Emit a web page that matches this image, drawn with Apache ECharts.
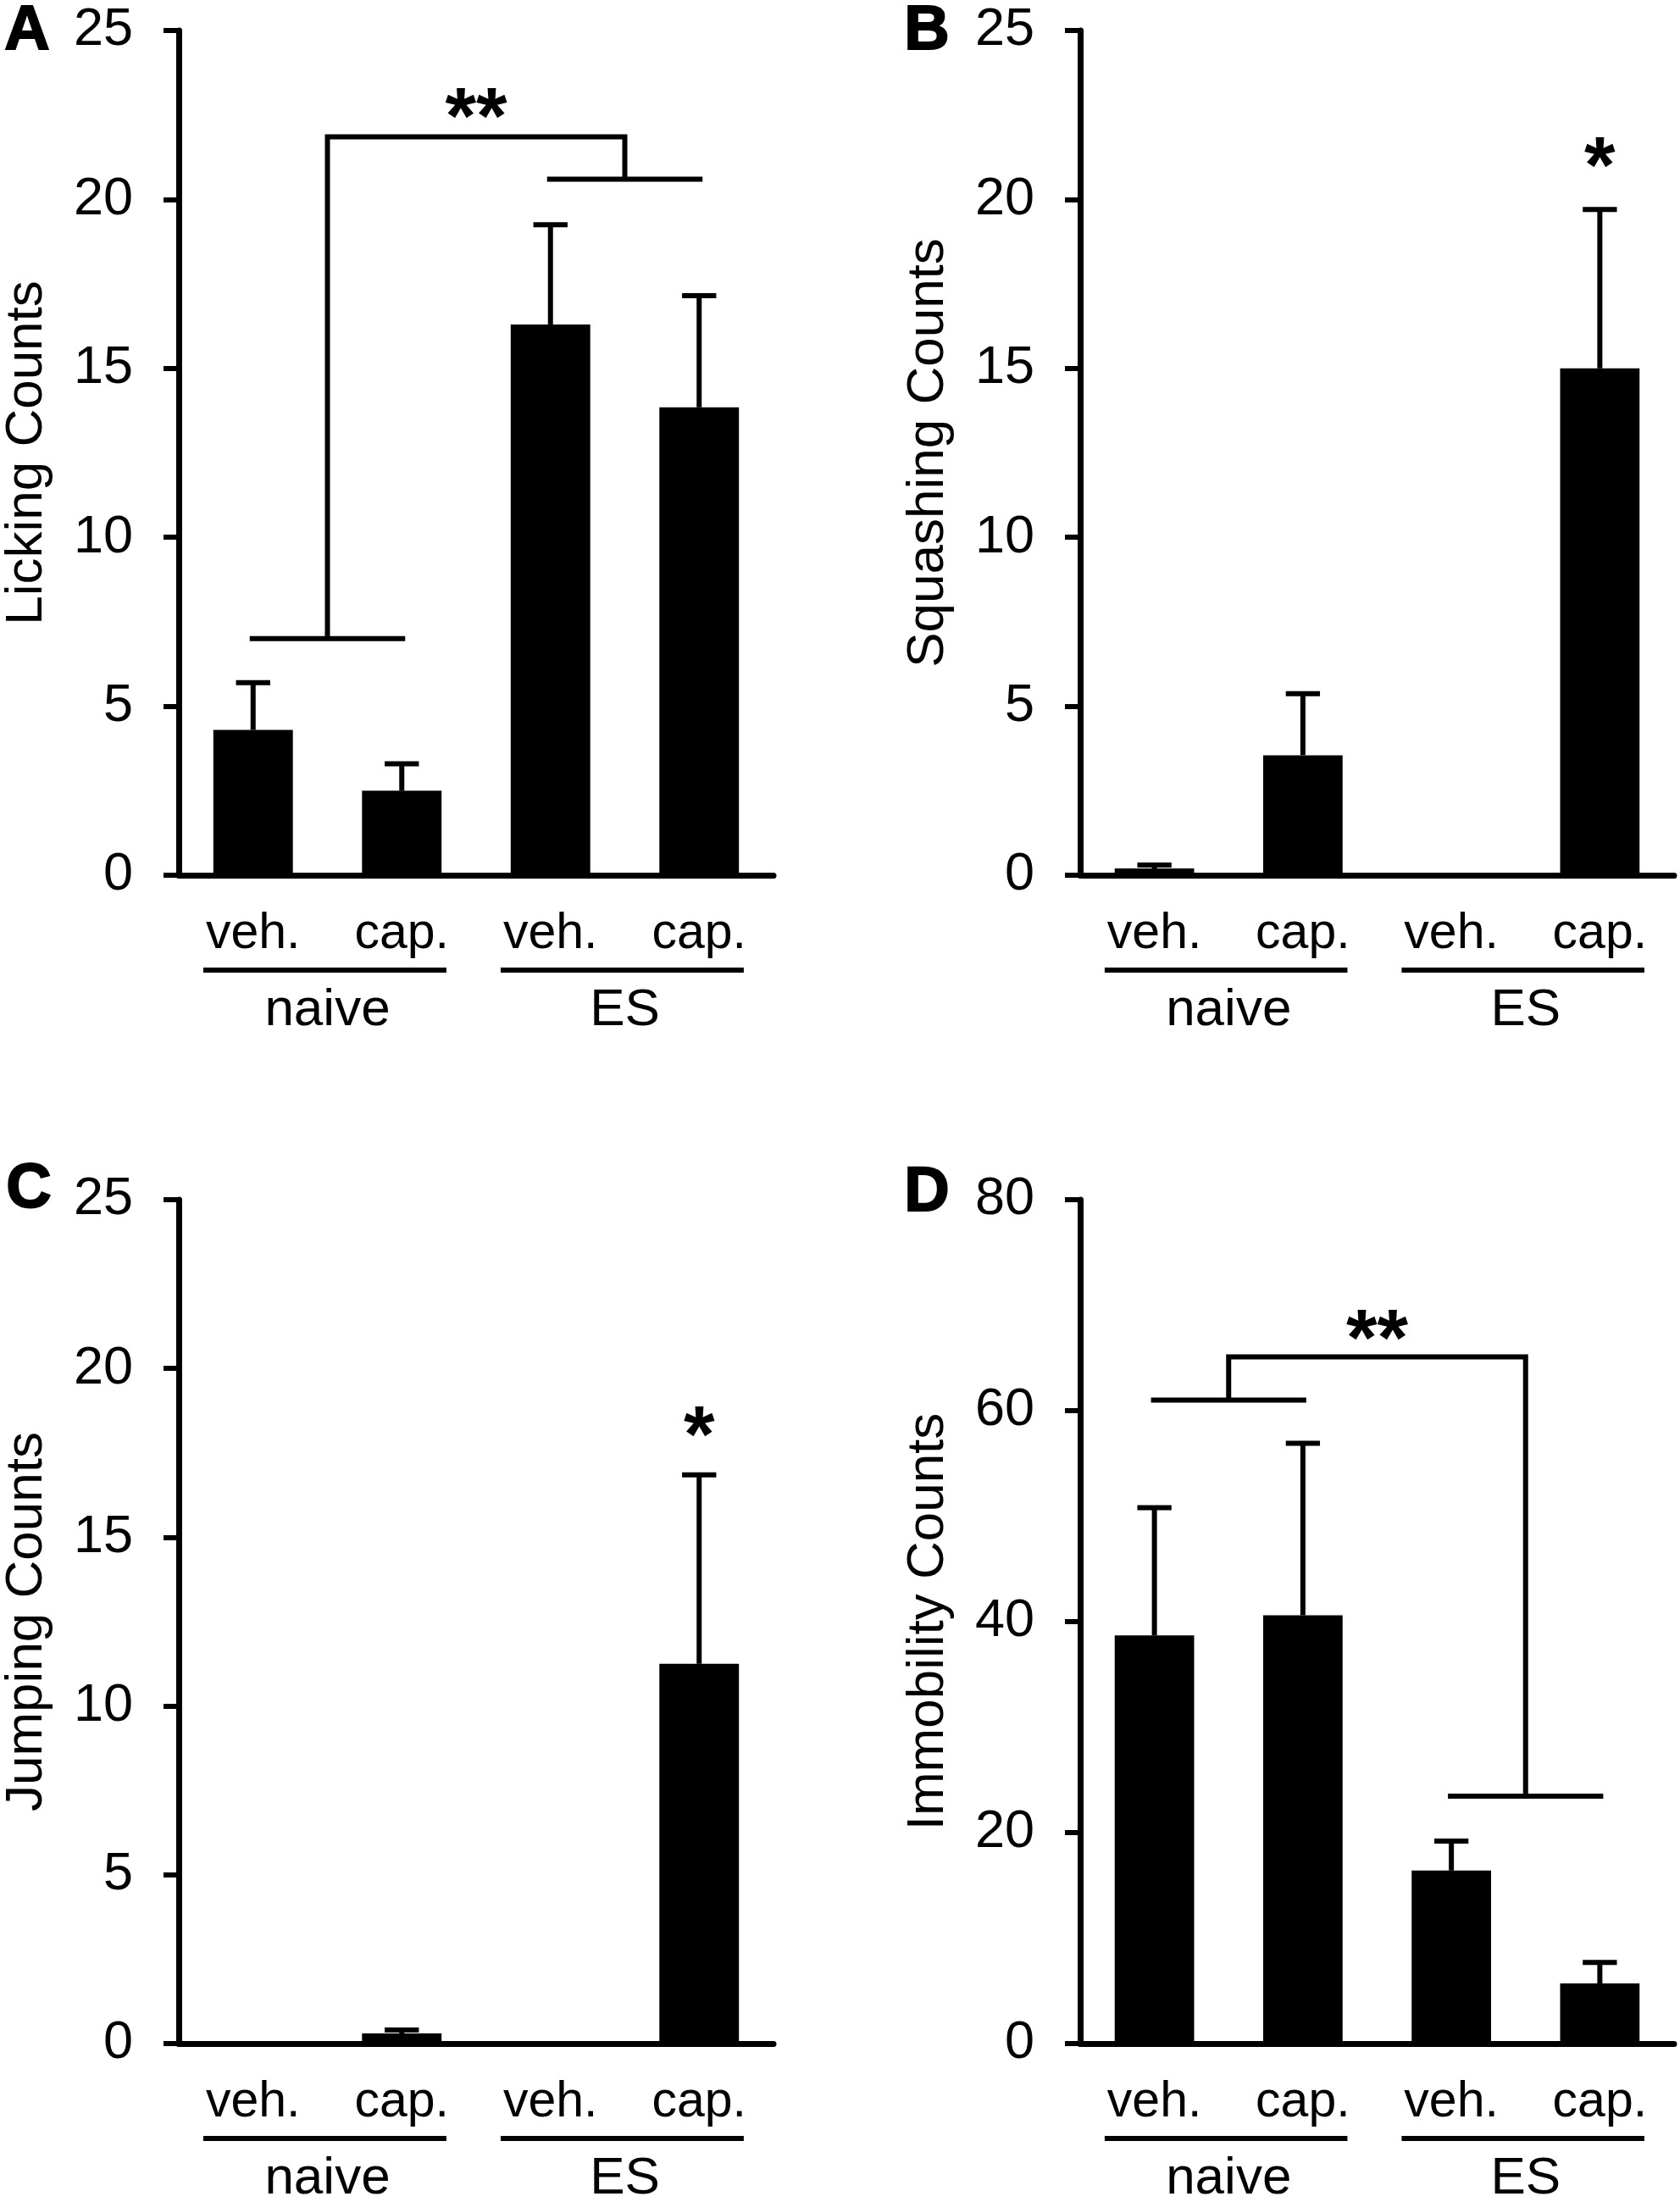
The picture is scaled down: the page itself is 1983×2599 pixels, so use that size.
<!DOCTYPE html>
<html><head><meta charset="utf-8">
<script src="https://cdn.jsdelivr.net/npm/echarts@6/dist/echarts.min.js"></script>
<style>html,body{margin:0;padding:0;background:#fff}#c{width:1983px;height:2599px}</style>
</head><body><div id="c"></div>
<script>
const categories = ['veh.', 'cap.', 'veh.', 'cap.'];
const groupNames = ['naive', 'ES'];
const panelLetters = ['A', 'B', 'C', 'D'];
const yTitles = ['Licking Counts', 'Squashing Counts', 'Jumping Counts', 'Immobility Counts'];
const yMax = [25, 25, 25, 80];
const yInterval = [5, 5, 5, 20];
const yTicks = [[0,5,10,15,20,25],[0,5,10,15,20,25],[0,5,10,15,20,25],[0,20,40,60,80]];

const lickingMean = [4.3, 2.5, 16.3, 13.85];
const lickingErrTop = [5.7, 3.3, 19.25, 17.15];
const squashingMean = [0.2, 3.55, 0, 15.0];
const squashingErrTop = [0.3, 5.37, 0, 19.7];
const jumpingMean = [0, 0.3, 0, 11.25];
const jumpingErrTop = [0, 0.4, 0, 16.85];
const immobilityMean = [38.7, 40.6, 16.4, 5.7];
const immobilityErrTop = [50.8, 56.9, 19.2, 7.7];

// brackets: [left pair level, top level, right pair level]
const bracketA = [7.0, 21.85, 20.6];
const bracketD = [61.0, 65.1, 23.45];

// significance marks
const markText = ['**', '*', '*', '**'];
const markPos = [1.5, 3, 3, 1.5];      // position in category units
const markValue = [22.8, 21.35, 18.4, 68.0];

const means = [lickingMean, squashingMean, jumpingMean, immobilityMean];
const errTops = [lickingErrTop, squashingErrTop, jumpingErrTop, immobilityErrTop];
const brackets = [bracketA, null, null, bracketD];

const FONT = '"Liberation Sans", Arial, Helvetica, sans-serif';
const gridBoxes = [
  {left: 211, top: 36, width: 702, height: 997},
  {left: 1275, top: 36, width: 701, height: 997},
  {left: 211, top: 1416, width: 702, height: 996},
  {left: 1275, top: 1416, width: 701, height: 996}
];
const letterPos = [[32, 38], [1094, 38], [34, 1405], [1094, 1409]];

const chart = echarts.init(document.getElementById('c'), null, {renderer: 'canvas'});

const LW = 6;
const xAxes = [], yAxes = [], series = [];
for (let k = 0; k < 4; k++) {
  xAxes.push({
    type: 'category', gridIndex: k, data: categories,
    axisLine: {lineStyle: {color: '#000', width: 7}},
    axisTick: {show: false},
    axisLabel: {color: '#000', fontSize: 59, fontFamily: FONT, margin: 40, lineHeight: 59, interval: 0}
  });
  yAxes.push({
    type: 'value', gridIndex: k, min: 0, max: yMax[k], interval: yInterval[k],
    name: yTitles[k], nameLocation: 'middle', nameRotate: 90, nameGap: 148,
    nameTextStyle: {color: '#000', fontSize: 62, fontFamily: FONT, lineHeight: 62},
    splitLine: {show: false},
    axisLine: {show: true, lineStyle: {color: '#000', width: 7}},
    axisTick: {show: true, length: 18, lineStyle: {color: '#000', width: 6}},
    axisLabel: {color: '#000', fontSize: 63, fontFamily: FONT, margin: 54, padding: [0, 0, 16, 0]}
  });
  series.push({
    type: 'bar', xAxisIndex: k, yAxisIndex: k,
    data: means[k], barWidth: '53.5%',
    itemStyle: {color: '#000'}, silent: true, animation: false, z: 2
  });
  series.push({
    type: 'custom', xAxisIndex: k, yAxisIndex: k, animation: false, z: 3,
    data: means[k].map((m, i) => [i, errTops[k][i], m]),
    encode: {x: 0, y: 1},
    renderItem: function (params, api) {
      const i = api.value(0), top = api.value(1), mean = api.value(2);
      if (!(top > mean)) return null;
      const p0 = api.coord([i, mean]);
      const p1 = api.coord([i, top]);
      const half = api.size([1, 0])[0] * 0.115;
      return {type: 'group', children: [
        {type: 'line', shape: {x1: p0[0], y1: p0[1], x2: p1[0], y2: p1[1]}, style: {stroke: '#000', lineWidth: LW}},
        {type: 'line', shape: {x1: p1[0] - half, y1: p1[1], x2: p1[0] + half, y2: p1[1]}, style: {stroke: '#000', lineWidth: LW}}
      ]};
    }
  });
  // group underlines + group names
  series.push({
    type: 'custom', xAxisIndex: k, yAxisIndex: k, animation: false, silent: true,
    data: [[0, 0]], encode: {x: 0, y: 1},
    renderItem: function (params, api) {
      const bw = api.size([1, 0])[0];
      const zero = api.coord([0, 0]);
      const cx = i => zero[0] + i * bw;
      const children = [];
      for (let g = 0; g < 2; g++) {
        const a = cx(2 * g), b = cx(2 * g + 1);
        children.push({type: 'line', shape: {x1: a - 0.335 * bw, y1: zero[1] + 112, x2: b + 0.30 * bw, y2: zero[1] + 112},
          style: {stroke: '#000', lineWidth: LW}});
        children.push({type: 'text', x: (a + b) / 2, y: zero[1] + 160,
          style: {text: groupNames[g], fill: '#000', fontSize: 62, fontFamily: FONT, align: 'center', verticalAlign: 'middle'}});
      }
      return {type: 'group', children: children};
    }
  });
  // brackets and significance marks
  const br = brackets[k];
  series.push({
    type: 'custom', xAxisIndex: k, yAxisIndex: k, animation: false, silent: true, z: 4,
    data: [[0, markValue[k]]], encode: {x: 0, y: 1},
    renderItem: function (params, api) {
      const bw = api.size([1, 0])[0];
      const zero = api.coord([0, 0]);
      const cx = p => zero[0] + p * bw;
      const cy = v => api.coord([0, v])[1];
      const st = {stroke: '#000', lineWidth: LW};
      const children = [];
      if (br) {
        const yL = cy(br[0]), yT = cy(br[1]), yR = cy(br[2]);
        children.push({type: 'line', shape: {x1: cx(0) - 4, y1: yL, x2: cx(1) + 4, y2: yL}, style: st});
        children.push({type: 'polyline', shape: {points: [[cx(0.5), yL], [cx(0.5), yT], [cx(2.5), yT], [cx(2.5), yR]]}, style: Object.assign({fill: null}, st)});
        children.push({type: 'line', shape: {x1: cx(2) - 4, y1: yR, x2: cx(3) + 4, y2: yR}, style: st});
      }
      const fs = 94;
      children.push({type: 'text', x: cx(markPos[k]), y: cy(markValue[k]) + 0.21 * fs,
        style: {text: markText[k], fill: '#000', fontSize: fs, fontWeight: 'bold', fontFamily: FONT, align: 'center', verticalAlign: 'middle'}});
      return {type: 'group', children: children};
    }
  });
}

const graphics = panelLetters.map((L, k) => ({
  type: 'text', x: letterPos[k][0], y: letterPos[k][1],
  style: {text: L, fill: '#000', stroke: '#000', lineWidth: 2, font: 'bold 74px ' + FONT, align: 'center', verticalAlign: 'middle', textAlign: 'center', textVerticalAlign: 'middle'}
}));

chart.setOption({
  animation: false,
  backgroundColor: '#fff',
  grid: gridBoxes.map(g => Object.assign({containLabel: false}, g)),
  xAxis: xAxes,
  yAxis: yAxes,
  series: series,
  graphic: graphics
});
</script></body></html>
